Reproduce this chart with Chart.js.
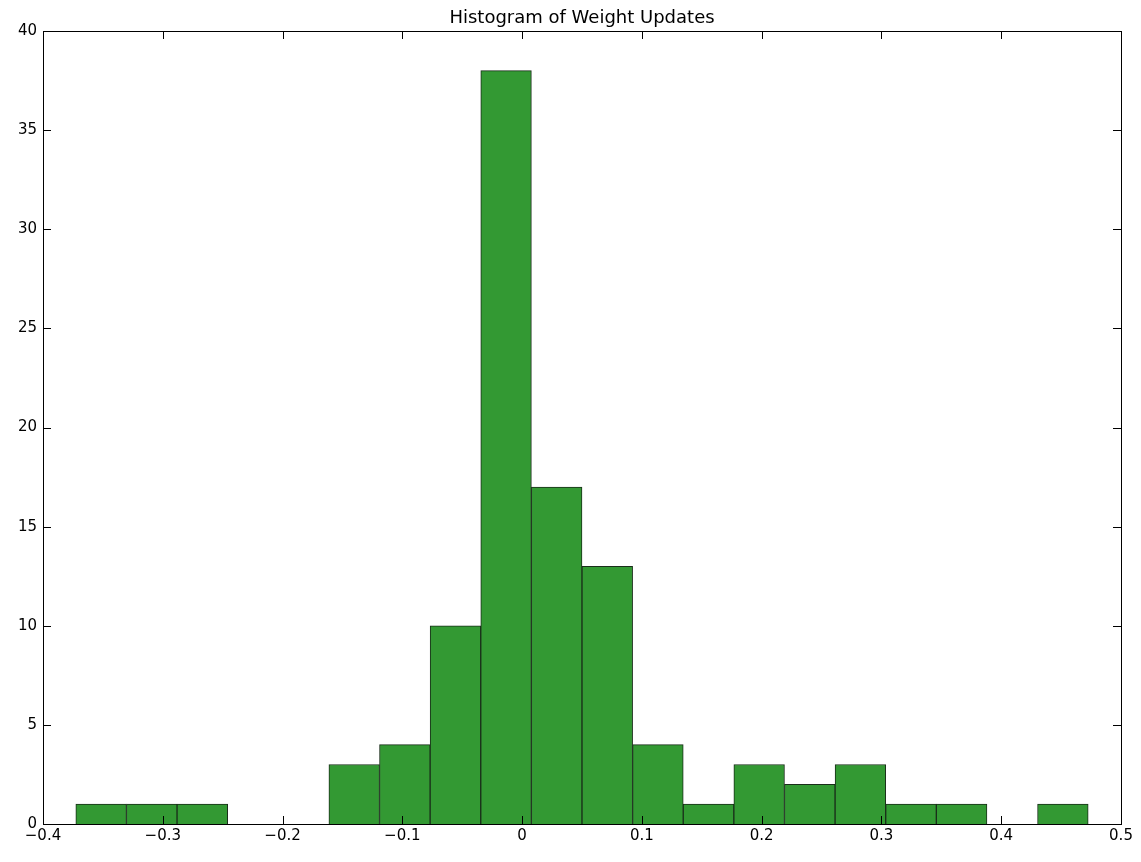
<!DOCTYPE html>
<html>
<head>
<meta charset="utf-8">
<script src="https://cdn.jsdelivr.net/npm/chart.js@4"></script>
<style>
  html, body { margin: 0; padding: 0; background: #fff; }
  #wrap { width: 1141px; height: 862px; }
</style>
</head>
<body>
<div id="wrap"><canvas id="hist"></canvas></div>
<script>
// --- DATA ---
const binStart = -0.3726;
const binWidth = 0.04226;
const counts = [1, 1, 1, 0, 0, 3, 4, 10, 38, 17, 13, 4, 1, 3, 2, 3, 1, 1, 0, 1];
const xTicks = [-0.4, -0.3, -0.2, -0.1, 0.0, 0.1, 0.2, 0.3, 0.4, 0.5];
const yTicks = [0, 5, 10, 15, 20, 25, 30, 35, 40];
const titleText = "Histogram of Weight Updates";

const points = counts.map((c, i) => ({ x: binStart + binWidth * (i + 0.5), y: c }));

function fmt(v) {
    const s = Number.isInteger(v) ? String(v) : v.toFixed(1);
    return s.replace("-", "\u2212");
}

// draws the frame, inward ticks on all sides, tick labels and title
const framePlugin = {
    id: "frame",
    afterDraw(chart) {
        const ctx = chart.ctx;
        const a = chart.chartArea;
        const xs = chart.scales.x, ys = chart.scales.y;
        ctx.save();
        ctx.strokeStyle = "#000";
        ctx.lineWidth = 1;
        ctx.strokeRect(a.left + 0.5, a.top + 0.5, a.right - a.left, a.bottom - a.top);
        ctx.beginPath();
        xTicks.forEach(t => {
            const px = Math.round(xs.getPixelForValue(t)) + 0.5;
            ctx.moveTo(px, a.bottom); ctx.lineTo(px, a.bottom - 8);
            ctx.moveTo(px, a.top); ctx.lineTo(px, a.top + 8);
        });
        yTicks.forEach(t => {
            const py = Math.round(ys.getPixelForValue(t)) + 0.5;
            ctx.moveTo(a.left, py); ctx.lineTo(a.left + 8, py);
            ctx.moveTo(a.right, py); ctx.lineTo(a.right - 8, py);
        });
        ctx.stroke();

        ctx.fillStyle = "#000";
        ctx.font = "15px 'DejaVu Sans'";
        ctx.textAlign = "center";
        ctx.textBaseline = "top";
        xTicks.forEach(t => ctx.fillText(fmt(t), xs.getPixelForValue(t), a.bottom + 5));
        ctx.textAlign = "right";
        ctx.textBaseline = "middle";
        yTicks.forEach(t => ctx.fillText(fmt(t), a.left - 6, ys.getPixelForValue(t)));

        ctx.font = "18px 'DejaVu Sans'";
        ctx.textAlign = "center";
        ctx.textBaseline = "bottom";
        ctx.fillText(titleText, (a.left + a.right) / 2, a.top - 4);
        ctx.restore();
    }
};

new Chart(document.getElementById("hist"), {
    type: "bar",
    data: {
        datasets: [{
            data: points,
            backgroundColor: "rgb(51,153,51)",
            borderColor: "#1a2e1a",
            borderWidth: 1,
            barPercentage: 1,
            categoryPercentage: 1,
            grouped: false
        }]
    },
    options: {
        responsive: true,
        maintainAspectRatio: false,
        animation: false,
        layout: { padding: { left: 35, top: 31, right: 20, bottom: 30 } },
        plugins: { legend: { display: false }, tooltip: { enabled: false } },
        scales: {
            x: {
                type: "linear", min: -0.4, max: 0.5, offset: false,
                ticks: { display: false }, grid: { display: false }, border: { display: false }
            },
            y: {
                min: 0, max: 40,
                ticks: { display: false }, grid: { display: false }, border: { display: false }
            }
        }
    },
    plugins: [framePlugin]
});
</script>
</body>
</html>
